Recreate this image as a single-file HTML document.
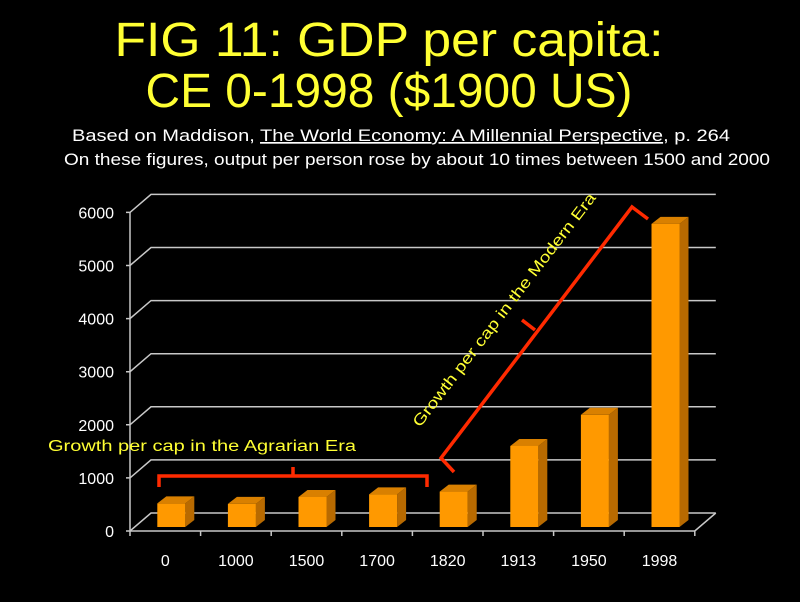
<!DOCTYPE html>
<html><head><meta charset="utf-8"><style>
html,body{margin:0;padding:0;background:#000;}
svg{display:block;font-family:"Liberation Sans",Arial,sans-serif;}
</style></head><body>
<svg id="c" width="800" height="602" viewBox="0 0 800 602">
<rect width="800" height="602" fill="#000"/>
<text x="389" y="56" fill="#ffff33" font-size="48" text-anchor="middle" textLength="549" lengthAdjust="spacingAndGlyphs">FIG 11: GDP per capita:</text>
<text x="389" y="107" fill="#ffff33" font-size="48" text-anchor="middle" textLength="487" lengthAdjust="spacingAndGlyphs">CE 0-1998 ($1900 US)</text>
<text x="72" y="141" fill="#fff" font-size="17" textLength="658" lengthAdjust="spacingAndGlyphs">Based on Maddison, <tspan text-decoration="underline">The World Economy: A Millennial Perspective</tspan>, p. 264</text>
<text x="64" y="165" fill="#fff" font-size="17" textLength="706" lengthAdjust="spacingAndGlyphs">On these figures, output per person rose by about 10 times between 1500 and 2000</text>
<g id="grid"></g><g id="bars"></g><g id="labels"></g>
<g fill="none" stroke="#ff2a00" stroke-width="3.5">
<path d="M159,487 L159,476 L427,476 L427,487 M293,476 L293,467"/>
</g>
<text x="48" y="451" fill="#ffff33" font-size="15.5" textLength="308" lengthAdjust="spacingAndGlyphs">Growth per cap in the Agrarian Era</text>
<g fill="none" stroke="#ff2a00" stroke-width="3.5">
<path d="M454,472 L441,458 L632,207 L648,219 M535,330 L522,320"/>
</g>
<text transform="translate(420,428) rotate(-52.5)" fill="#ffff33" font-size="15.5" textLength="290" lengthAdjust="spacingAndGlyphs">Growth per cap in the Modern Era</text>
</svg>
<script>
const categories=["0","1000","1500","1700","1820","1913","1950","1998"];
const gdpValues=[444,435,565,615,667,1526,2113,5709];
const yTicks=[0,1000,2000,3000,4000,5000,6000];
const NS="http://www.w3.org/2000/svg";
const X0=130,STEP=70.6,DX=21,DY=18,BASE=531,PPU=0.0531;
function yFront(v){return BASE-v*PPU;}
function xCat(i){return X0+i*STEP;}
function mk(t,a,p){const e=document.createElementNS(NS,t);for(const k in a)e.setAttribute(k,a[k]);p.appendChild(e);return e;}
const grid=document.getElementById('grid'),bars=document.getElementById('bars'),labels=document.getElementById('labels');
const gc="#c8c8c8";
// axes
const ax=mk('path',{d:`M${X0},${yFront(6000)} L${X0},${BASE} L${xCat(8)},${BASE} L${xCat(8)+DX},${BASE-DY}`,stroke:gc,fill:'none','stroke-width':1.5},grid);


yTicks.forEach(v=>{
  const y=yFront(v);
  const g=mk('path',{d:`M${X0-4},${y} L${X0},${y} L${X0+DX},${y-DY} L${xCat(8)+DX},${y-DY}`,stroke:gc,fill:'none','stroke-width':1.5},grid);
  
  
  const t=mk('text',{x:X0-16,y:y+6,fill:'#fff','font-size':16,'text-anchor':'end'},labels);
  t.textContent=v;
  
  
});
for(let i=0;i<=8;i++){
  const x=xCat(i);
  const tk=mk('line',{x1:x,y1:BASE,x2:x,y2:BASE+5,stroke:gc,'stroke-width':1.5},grid);
  
  
}
categories.forEach((c,i)=>{
  const cx=xCat(i)+STEP/2+6,w=28,d=9,h=7,bottom=BASE-4,top=bottom-gdpValues[i]*PPU;
  const l=cx-w/2,r=cx+w/2;
  const g=mk('g',{},bars);
  
  
  mk('polygon',{points:`${r},${top} ${r+d},${top-h} ${r+d},${bottom-h} ${r},${bottom}`,fill:'#b86a00'},g);
  mk('polygon',{points:`${l},${top} ${l+d},${top-h} ${r+d},${top-h} ${r},${top}`,fill:'#d98000'},g);
  mk('rect',{x:l,y:top,width:w,height:bottom-top,fill:'#ff9900'},g);
  const t=mk('text',{x:xCat(i)+STEP/2,y:566,fill:'#fff','font-size':16,'text-anchor':'middle'},labels);
  t.textContent=c;
  
  
});
</script>
</body></html>
